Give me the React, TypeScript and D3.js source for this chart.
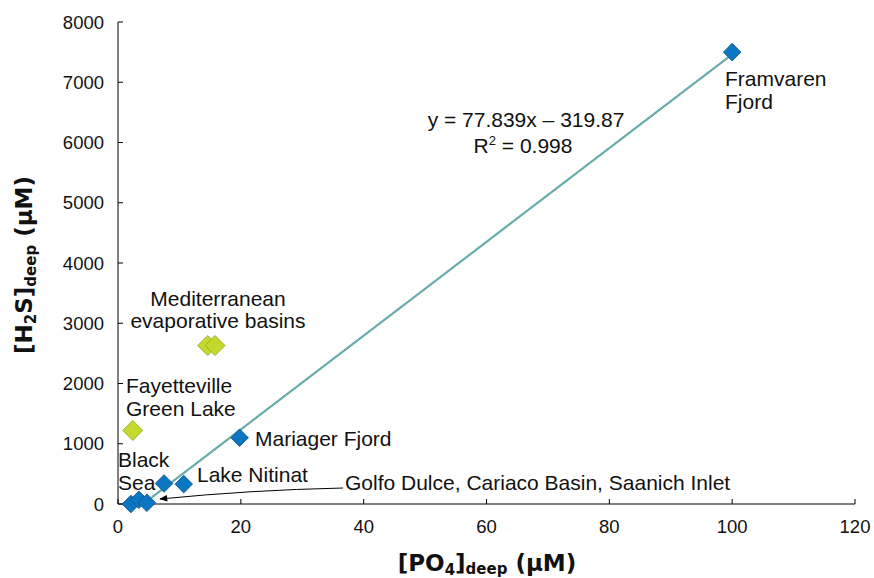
import React from "react";
import * as d3 from "d3";

const blueX = [100, 19.8, 10.7, 7.5, 2.1, 3.4, 4.7];
const blueY = [7500, 1100, 330, 340, 0, 70, 20];
const greenX = [2.4, 14.6, 15.8];
const greenY = [1220, 2630, 2630];
const xTicks = [0, 20, 40, 60, 80, 100, 120];
const yTicks = [0, 1000, 2000, 3000, 4000, 5000, 6000, 7000, 8000];
const slope = 77.839;
const intercept = -319.87;
const fitRange = [5.4, 100];

const W = 874, H = 578;
const x = d3.scaleLinear().domain([0, 120]).range([118, 855]);
const y = d3.scaleLinear().domain([0, 8000]).range([504, 22]);

const font = "Liberation Sans, Arial, sans-serif";
const boldFont = "DejaVu Sans, Verdana, sans-serif";

function Diamond({ cx, cy, r, fill, stroke }: { cx: number; cy: number; r: number; fill: string; stroke: string }) {
  return (
    <path
      d={`M${cx},${cy - r}L${cx + r},${cy}L${cx},${cy + r}L${cx - r},${cy}Z`}
      fill={fill}
      stroke={stroke}
      strokeWidth={0.8}
    />
  );
}

export default function App() {
  const line = d3.line<number>().x((d) => x(d)).y((d) => y(slope * d + intercept));
  const arrowPath = d3.path();
  arrowPath.moveTo(343, 488);
  arrowPath.quadraticCurveTo(250, 490, 160, 499);
  return (
    <svg width={W} height={H} style={{ position: "absolute", left: 0, top: 0 }}>
      <defs>
        <marker id="ah" viewBox="0 0 10 10" refX="9" refY="5" markerWidth="9" markerHeight="8" orient="auto-start-reverse" markerUnits="userSpaceOnUse">
          <path d="M0,1L10,5L0,9Z" fill="#000" />
        </marker>
      </defs>
      {/* axes */}
      <line x1={x(0)} x2={x(0)} y1={y(0)} y2={y(8000)} stroke="#000" strokeWidth={1} />
      <line x1={x(0)} x2={x(120)} y1={y(0)} y2={y(0)} stroke="#000" strokeWidth={1} />
      {yTicks.map((t) => (
        <g key={"y" + t}>
          <line x1={x(0)} x2={x(0) + 5} y1={y(t)} y2={y(t)} stroke="#000" />
          <text x={104} y={y(t) + 6.5} textAnchor="end" fontFamily={font} fontSize={18.5} fill="#111">
            {t}
          </text>
        </g>
      ))}
      {xTicks.map((t) => (
        <g key={"x" + t}>
          <line x1={x(t)} x2={x(t)} y1={y(0)} y2={y(0) - 5} stroke="#000" />
          <text x={x(t)} y={533} textAnchor="middle" fontFamily={font} fontSize={18.5} fill="#111">
            {t}
          </text>
        </g>
      ))}
      {/* axis titles */}
      <text x={487} y={571} textAnchor="middle" fontFamily={boldFont} fontWeight="bold" fontSize={23} fill="#111">
        [PO<tspan fontSize={15} dy={4}>4</tspan>
        <tspan dy={-4}>]</tspan>
        <tspan fontSize={15} dy={3}>deep</tspan>
        <tspan dy={-3}> (µM)</tspan>
      </text>
      <text
        transform={`translate(32,265) rotate(-90)`}
        textAnchor="middle"
        fontFamily={boldFont}
        fontWeight="bold"
        fontSize={23}
        fill="#111"
      >
        [H<tspan fontSize={15} dy={4}>2</tspan>
        <tspan dy={-4}>S]</tspan>
        <tspan fontSize={15} dy={4}>deep</tspan>
        <tspan dy={-4}> (µM)</tspan>
      </text>
      {/* trend line */}
      <path d={line(fitRange) || ""} fill="none" stroke="#6aabab" strokeWidth={2.2} />
      {/* arrow */}
      <path d={arrowPath.toString()} fill="none" stroke="#000" strokeWidth={1} markerEnd="url(#ah)" />
      {/* points */}
      {greenX.map((v, i) => (
        <Diamond key={"g" + i} cx={x(v)} cy={y(greenY[i])} r={10} fill="#c4d82e" stroke="#8fa31a" />
      ))}
      {blueX.map((v, i) => (
        <Diamond key={"b" + i} cx={x(v)} cy={y(blueY[i])} r={8.8} fill="#0b77c2" stroke="#0a4f86" />
      ))}
      {/* labels */}
      <g fontFamily={font} fontSize={21} fill="#111">
        <text x={725} y={86}>Framvaren</text>
        <text x={725} y={109}>Fjord</text>
        <text x={526} y={127} textAnchor="middle">y = 77.839x – 319.87</text>
        <text x={523} y={153} textAnchor="middle">
          R<tspan fontSize={13} dy={-8}>2</tspan>
          <tspan dy={8}> = 0.998</tspan>
        </text>
        <text x={218} y={306} textAnchor="middle">Mediterranean</text>
        <text x={218} y={328} textAnchor="middle">evaporative basins</text>
        <text x={126} y={393}>Fayetteville</text>
        <text x={126} y={416}>Green Lake</text>
        <text x={118} y={467}>Black</text>
        <text x={118} y={490}>Sea</text>
        <text x={197} y={482}>Lake Nitinat</text>
        <text x={255} y={446}>Mariager Fjord</text>
        <text x={345} y={490}>Golfo Dulce, Cariaco Basin, Saanich Inlet</text>
      </g>
    </svg>
  );
}
